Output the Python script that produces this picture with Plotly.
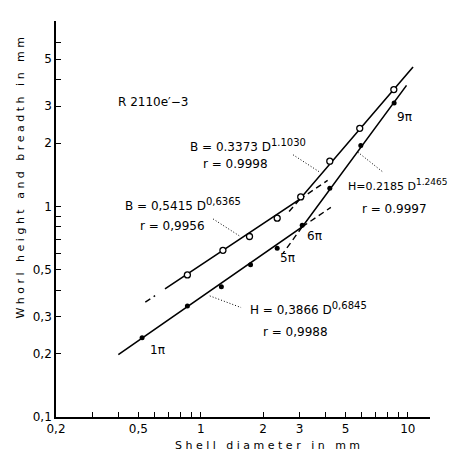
import numpy as np
import plotly.graph_objects as go

# ---- data ----
# Breadth B (open circles)
b_D = [0.862, 1.28, 1.72, 2.34, 3.04, 4.2, 5.86, 8.56]
b_V = [0.473, 0.619, 0.72, 0.88, 1.11, 1.64, 2.35, 3.59]
# Height H (filled dots)
h_D = [0.521, 0.862, 1.258, 1.74, 2.34, 3.09, 4.2, 5.93, 8.59]
h_V = [0.238, 0.337, 0.415, 0.528, 0.633, 0.815, 1.22, 1.95, 3.10]

# fitted lines (two segments each, vertices)
b_line_D = [0.672, 3.0, 10.6]
b_line_V = [0.406, 1.08, 4.6]
b_dash_start_D = [0.54, 0.602]
b_dash_start_V = [0.351, 0.377]
b_ext_low_D = [3.0, 4.1]      # lower B law continued
b_ext_low_V = [1.08, 1.33]
b_ext_up_D = [3.0, 2.6]       # upper B law continued downwards
b_ext_up_V = [1.08, 0.917]

h_line_D = [0.40, 3.09, 9.86]
h_line_V = [0.198, 0.80, 3.76]
h_ext_low_D = [3.09, 4.25]
h_ext_low_V = [0.80, 0.99]
h_ext_up_D = [3.09, 2.5]
h_ext_up_V = [0.80, 0.60]

# dotted leaders (label -> line)
leaders = [
    ([2.79, 3.78], [1.76, 1.45]),   # B upper
    ([1.148, 1.54], [0.872, 0.724]),  # B lower
    ([1.106, 1.566], [0.376, 0.331]),  # H lower
    ([5.74, 7.63], [1.81, 1.45]),   # H upper
]

SUP = '<sup><span style="font-size:10px">{}</span></sup>'
SUP9 = '<sup><span style="font-size:9px">{}</span></sup>'

# labels: (text, D, V, size)
labels = [
    ("R 2110e\u2032\u22123", 0.39, 3.15, 12),
    ("B = 0.3373 D" + SUP.format("1.1030"), 0.868, 1.95, 12),
    ("r = 0.9998", 1.0, 1.585, 12),
    ("B = 0,5415 D" + SUP.format("0,6365"), 0.421, 1.023, 12),
    ("r = 0,9956", 0.498, 0.811, 12),
    ("H = 0,3866 D" + SUP.format("0,6845"), 1.69, 0.326, 12),
    ("r = 0,9988", 1.956, 0.254, 12),
    ("H=0.2185 D" + SUP9.format("1.2465"), 5.05, 1.27, 11),
    ("r = 0.9997", 5.88, 0.97, 12),
    ("1\u03c0", 0.556, 0.208, 12),
    ("5\u03c0", 2.36, 0.571, 12),
    ("6\u03c0", 3.19, 0.727, 12),
    ("9\u03c0", 8.68, 2.66, 12),
]

x_tickvals = [0.2, 0.3, 0.4, 0.5, 0.6, 0.7, 0.8, 0.9, 1, 2, 3, 4, 5, 6, 7, 8, 9, 10]
x_ticklabels = {0.2: "0,2", 0.5: "0,5", 1: "1", 2: "2", 3: "3", 5: "5", 10: "10"}
y_tickvals = [0.1, 0.2, 0.3, 0.4, 0.5, 0.6, 0.7, 0.8, 0.9, 1, 2, 3, 4, 5, 6]
y_ticklabels = {0.1: "0,1", 0.2: "0,2", 0.3: "0,3", 0.5: "0,5", 1: "1", 2: "2", 3: "3", 5: "5"}

x_title = "Shell diameter in mm"
y_title = "Whorl height and breadth in mm"

FONT = "DejaVu Sans"
NB = "\u00a0"

def spaced(s):
    words = s.split(" ")
    return (NB * 3).join(NB.join(list(w)) for w in words)

fig = go.Figure()
solid = dict(color="black", width=1.6)
dashed = dict(color="black", width=1.4, dash="6px,4px")

fig.add_trace(go.Scatter(x=b_line_D, y=b_line_V, mode="lines", line=solid))
fig.add_trace(go.Scatter(x=h_line_D, y=h_line_V, mode="lines", line=solid))
for xs, ys in [(b_dash_start_D, b_dash_start_V), (b_ext_low_D, b_ext_low_V),
               (b_ext_up_D, b_ext_up_V), (h_ext_low_D, h_ext_low_V),
               (h_ext_up_D, h_ext_up_V)]:
    fig.add_trace(go.Scatter(x=xs, y=ys, mode="lines", line=dashed))
for xs, ys in leaders:
    fig.add_trace(go.Scatter(x=xs, y=ys, mode="lines",
                             line=dict(color="black", width=1, dash="1px,2px")))

fig.add_trace(go.Scatter(x=b_D, y=b_V, mode="markers",
                         marker=dict(symbol="circle", size=6, color="white",
                                     line=dict(color="black", width=1.3))))
fig.add_trace(go.Scatter(x=h_D, y=h_V, mode="markers",
                         marker=dict(symbol="circle", size=5, color="black")))

for txt, d, v, sz in labels:
    fig.add_annotation(x=np.log10(d), y=np.log10(v), xref="x", yref="y",
                       text=txt, showarrow=False, xanchor="left", yanchor="middle",
                       font=dict(family=FONT, size=sz, color="black"))

# axis titles
fig.add_annotation(x=np.log10(2.1), y=-0.072, xref="x", yref="paper",
                   text=spaced(x_title), showarrow=False, xanchor="center",
                   yanchor="middle", font=dict(family=FONT, size=11, color="black"))
fig.add_annotation(x=-0.094, y=np.log10(1.37), xref="paper", yref="y",
                   text=spaced(y_title), showarrow=False, textangle=-90,
                   xanchor="center", yanchor="middle",
                   font=dict(family=FONT, size=11, color="black"))

fig.update_layout(
    width=456, height=455,
    margin=dict(l=48, r=34, t=13, b=46),
    paper_bgcolor="white", plot_bgcolor="white",
    showlegend=False,
    font=dict(family=FONT, size=12, color="black"),
)
fig.update_xaxes(type="log", range=[np.log10(0.2), np.log10(12.8)],
                 showgrid=False, zeroline=False, showline=True,
                 linecolor="black", linewidth=1.6,
                 ticks="inside", ticklen=5, tickwidth=1.2, tickcolor="black",
                 tickvals=x_tickvals,
                 ticktext=[x_ticklabels.get(v, "") for v in x_tickvals],
                 tickfont=dict(family=FONT, size=12, color="black"))
fig.update_yaxes(type="log", range=[np.log10(0.1), np.log10(7.6)],
                 showgrid=False, zeroline=False, showline=True,
                 linecolor="black", linewidth=1.6,
                 ticks="inside", ticklen=5, tickwidth=1.2, tickcolor="black",
                 tickvals=y_tickvals,
                 ticktext=[y_ticklabels.get(v, "") for v in y_tickvals],
                 tickfont=dict(family=FONT, size=12, color="black"))

fig.write_html("out.html")
